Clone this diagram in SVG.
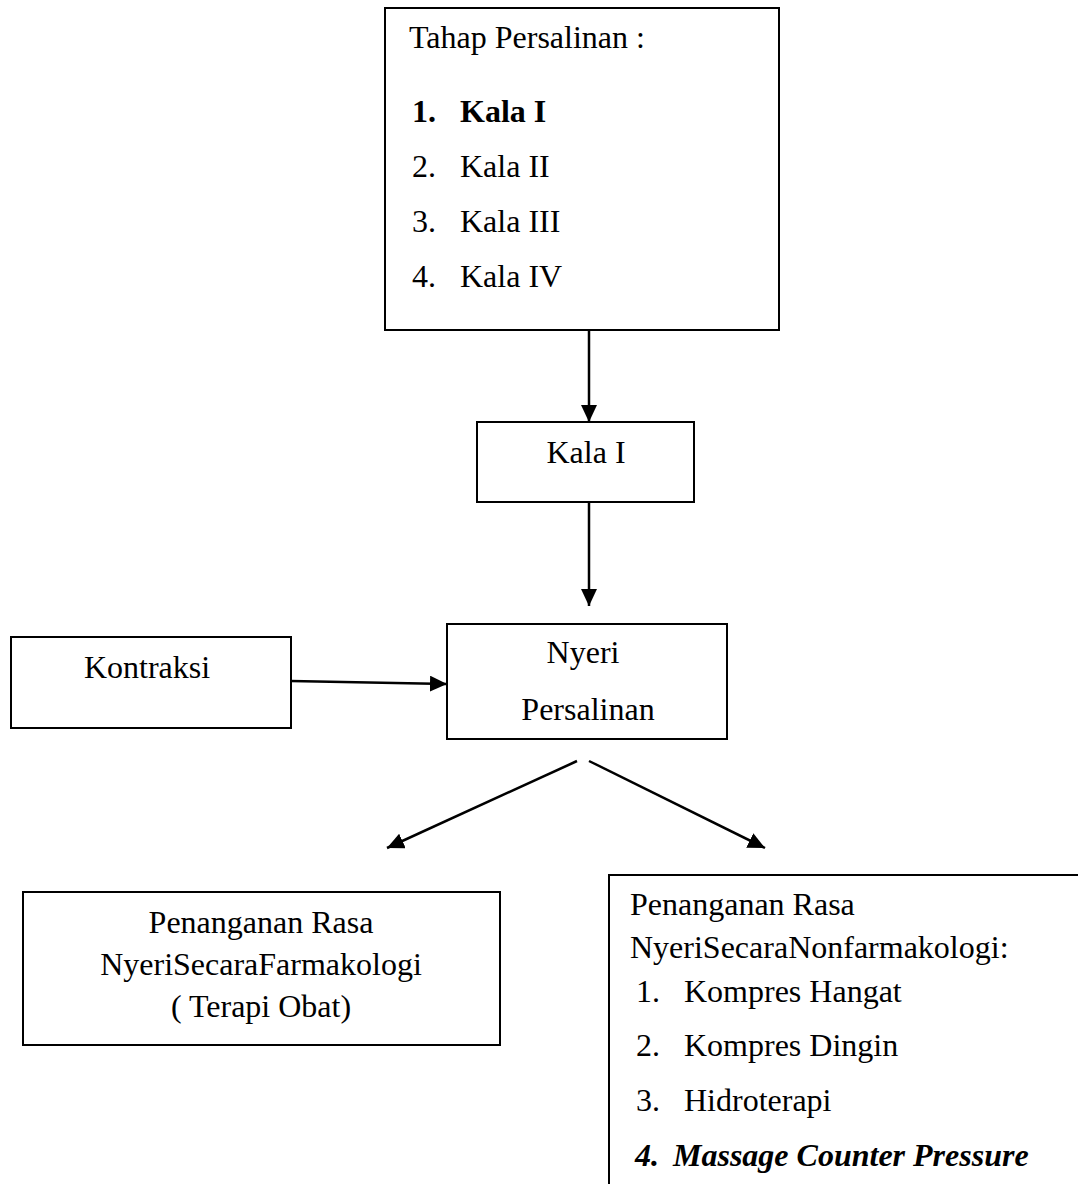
<svg xmlns="http://www.w3.org/2000/svg" width="1078" height="1184" viewBox="0 0 1078 1184">
<style>
.box{fill:#fff;stroke:#000;stroke-width:2}
.t{font-family:"Liberation Serif","Times New Roman",serif;font-size:32px;fill:#000}
.c{text-anchor:middle}
.b{font-weight:bold}
.bi{font-weight:bold;font-style:italic}
.conn{stroke:#000;stroke-width:2.5;fill:none;marker-end:url(#ah)}
</style>
<defs>
<marker id="ah" markerUnits="userSpaceOnUse" markerWidth="18" markerHeight="17" refX="17" refY="8" orient="auto" viewBox="0 0 18 17">
<path d="M0,0 L17,8 L0,16 z" fill="#000"/>
</marker>
</defs>
<rect width="1078" height="1184" fill="#fff"/>
<g id="connectors">
<line class="conn" x1="589" y1="330" x2="589" y2="422"/>
<line class="conn" x1="589" y1="502" x2="589" y2="606"/>
<line class="conn" x1="291" y1="681" x2="447" y2="684"/>
<line class="conn" x1="577" y1="761" x2="387" y2="848"/>
<line class="conn" x1="589" y1="761" x2="765" y2="848"/>
</g>
<g id="tahap">
<rect class="box" x="385" y="8" width="394" height="322"/>
<text class="t" x="409" y="48">Tahap Persalinan :</text>
<text class="t b" x="412" y="122">1.</text><text class="t b" x="460" y="122">Kala I</text>
<text class="t" x="412" y="177">2.</text><text class="t" x="460" y="177">Kala II</text>
<text class="t" x="412" y="232">3.</text><text class="t" x="460" y="232">Kala III</text>
<text class="t" x="412" y="287">4.</text><text class="t" x="460" y="287">Kala IV</text>
</g>
<g id="kala1">
<rect class="box" x="477" y="422" width="217" height="80"/>
<text class="t c" x="586" y="463">Kala I</text>
</g>
<g id="kontraksi">
<rect class="box" x="11" y="637" width="280" height="91"/>
<text class="t c" x="147" y="678">Kontraksi</text>
</g>
<g id="nyeri">
<rect class="box" x="447" y="624" width="280" height="115"/>
<text class="t c" x="583" y="663">Nyeri</text>
<text class="t c" x="588" y="720">Persalinan</text>
</g>
<g id="farmakologi">
<rect class="box" x="23" y="892" width="477" height="153"/>
<text class="t c" x="261" y="933">Penanganan Rasa</text>
<text class="t c" x="261" y="975">NyeriSecaraFarmakologi</text>
<text class="t c" x="261" y="1017">( Terapi Obat)</text>
</g>
<g id="nonfarmakologi">
<path class="box" d="M609,1190 V875 H1085"/>
<text class="t" x="630" y="915">Penanganan Rasa</text>
<text class="t" x="630" y="958">NyeriSecaraNonfarmakologi:</text>
<text class="t" x="636" y="1002">1.</text><text class="t" x="684" y="1002">Kompres Hangat</text>
<text class="t" x="636" y="1056">2.</text><text class="t" x="684" y="1056">Kompres Dingin</text>
<text class="t" x="636" y="1111">3.</text><text class="t" x="684" y="1111">Hidroterapi</text>
<text class="t bi" x="635" y="1166">4.</text><text class="t bi" x="673" y="1166">Massage Counter Pressure</text>
</g>
</svg>
